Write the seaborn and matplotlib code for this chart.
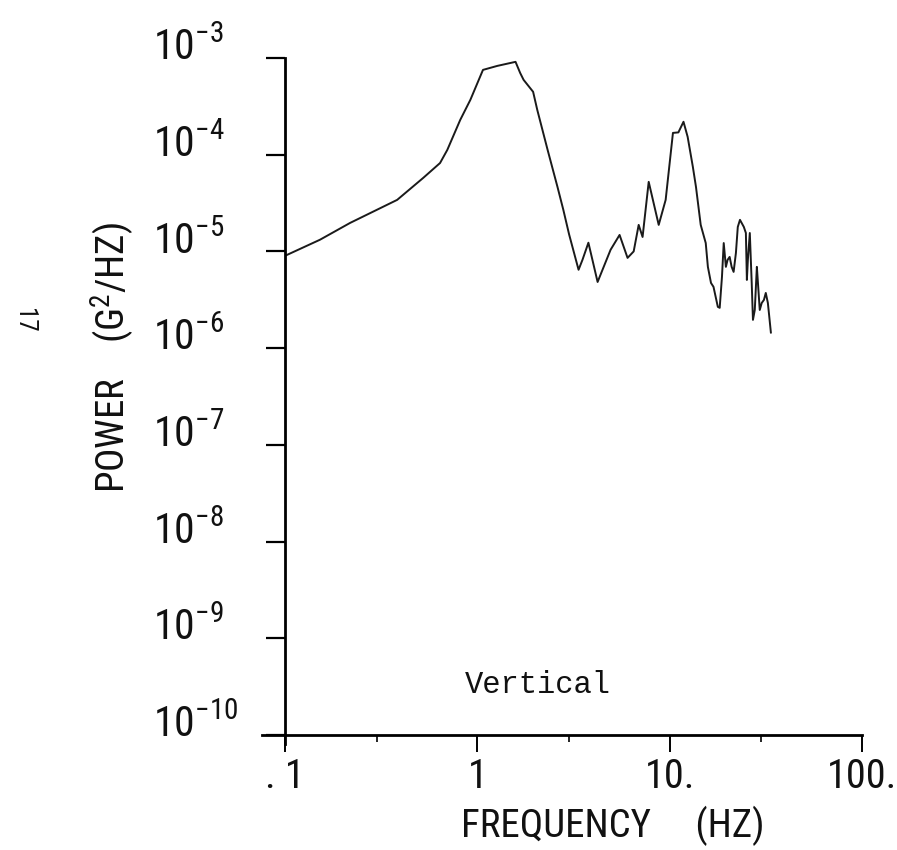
import matplotlib
matplotlib.use('Agg')

import matplotlib.pyplot as plt
from matplotlib import font_manager
from matplotlib.transforms import ScaledTranslation
import seaborn as sns
import pandas as pd
import numpy as np


# values (frequency in Hz, power in G^2/Hz)
freq = [0.1, 0.152, 0.218, 0.383, 0.523, 0.64, 0.698, 0.815, 0.92, 1.07,
        1.27, 1.58, 1.67, 1.74, 1.95, 2.05, 2.32, 2.61, 2.8, 3.0,
        3.36, 3.52, 3.78, 4.22, 4.93, 5.49, 6.04, 6.5, 6.9, 7.23,
        7.78, 8.77, 9.53, 10.4, 11.1, 11.8, 12.4, 13.2, 13.7, 14.5,
        15.4, 15.8, 16.4, 16.9, 17.8, 18.2, 18.7, 19.1, 19.6, 20.0,
        20.5, 21.0, 21.5, 22.1, 22.6, 23.2, 24.3, 24.9, 25.2, 25.5,
        26.1, 26.7, 27.1, 27.7, 28.4, 28.7, 29.4, 30.1, 30.9, 31.6,
        32.4, 32.8, 33.6]
power = [9.0e-6, 1.32e-5, 1.97e-5, 3.41e-5, 5.75e-5, 8.2e-5, 1.12e-4, 2.29e-4, 3.69e-4, 7.53e-4,
         8.28e-4, 9.12e-4, 7.0e-4, 5.94e-4, 4.47e-4, 2.9e-4, 1.12e-4, 4.65e-5, 2.69e-5, 1.5e-5,
         6.46e-6, 8.17e-6, 1.23e-5, 4.83e-6, 1.04e-5, 1.48e-5, 8.57e-6, 1.0e-5, 1.88e-5, 1.41e-5,
         5.24e-5, 1.88e-5, 3.41e-5, 1.68e-4, 1.70e-4, 2.19e-4, 1.53e-4, 7.48e-5, 4.65e-5, 1.88e-5,
         1.22e-5, 6.92e-6, 4.72e-6, 4.30e-6, 2.67e-6, 2.61e-6, 5.44e-6, 1.22e-5, 6.92e-6, 8.17e-6,
         8.77e-6, 6.92e-6, 6.14e-6, 9.64e-6, 1.79e-5, 2.12e-5, 1.79e-5, 1.55e-5, 5.07e-6, 8.17e-6,
         1.55e-5, 4.72e-6, 1.96e-6, 2.48e-6, 6.92e-6, 5.07e-6, 2.48e-6, 2.93e-6, 3.15e-6, 3.72e-6,
         2.93e-6, 2.31e-6, 1.44e-6]

x_ticks = [0.1, 1, 10, 100]
x_tick_labels = ['. 1', '1', '10.', '100.']
x_minor = [0.3, 3, 30]
y_ticks = [1e-10, 1e-9, 1e-8, 1e-7, 1e-6, 1e-5, 1e-4, 1e-3]
y_tick_labels = [r'$\mathregular{10^{-%d}}$' % n for n in [10, 9, 8, 7, 6, 5, 4, 3]]

df = pd.DataFrame({'freq': freq, 'power': power})

# the scan uses a narrow printer face; take a condensed font if one is there
installed = font_manager.fontManager.ttflist
names = {f.name for f in installed}
stretch = 'normal'
narrow = None
for cand in ['Liberation Sans Narrow', 'Roboto Condensed', 'Open Sans Condensed',
             'Noto Sans Condensed', 'DejaVu Sans Condensed']:
    if cand in names:
        narrow = cand
        break
if narrow is None:
    for f in installed:
        if str(f.stretch) in ('condensed', 'semi-condensed', 'extra-condensed', '75', '62.5', '87.5') \
                and f.name in ('DejaVu Sans', 'Noto Sans', 'Open Sans', 'Roboto', 'Liberation Sans'):
            narrow = f.name
            stretch = f.stretch
            break
if narrow is None:
    narrow = 'Liberation Sans'

sns.set_theme(style='white')
plt.rcParams['font.family'] = [narrow, 'DejaVu Sans']
plt.rcParams['font.stretch'] = stretch

fig = plt.figure(figsize=(8.97, 8.5), dpi=100)
ax = fig.add_axes([0.3177, 0.1353, 0.6433, 0.7965])

sns.lineplot(data=df, x='freq', y='power', sort=False, estimator=None,
             color='#1a1a1a', linewidth=1.4, ax=ax)

ax.set_xscale('log')
ax.set_yscale('log')
ax.set_xlim(0.1, 100)
ax.set_ylim(1e-10, 1e-3)

ax.set_xticks(x_ticks)
ax.set_xticklabels(x_tick_labels, fontsize=29)
ax.set_xticks(x_minor, minor=True)
ax.set_xticklabels([], minor=True)
ax.set_yticks(y_ticks)
ax.set_yticklabels(y_tick_labels, fontsize=30)
ax.yaxis.set_minor_locator(matplotlib.ticker.NullLocator())

ax.tick_params(axis='y', which='major', direction='out', length=14, width=1.6,
               pad=81, color='black', left=True, labelcolor='#111111')
ax.tick_params(axis='x', which='major', direction='out', length=12, width=1.4,
               pad=4, color='black', bottom=True, labelcolor='#111111')
ax.tick_params(axis='x', which='minor', direction='out', length=5, width=1.2,
               color='black', bottom=True)

# labels sit left-aligned and a bit above their ticks, as on the scan
for lbl in ax.get_yticklabels():
    lbl.set_horizontalalignment('left')
    lbl.set_transform(lbl.get_transform() + ScaledTranslation(0, 10/72, fig.dpi_scale_trans))

for side in ['top', 'right']:
    ax.spines[side].set_visible(False)
for side in ['left', 'bottom']:
    ax.spines[side].set_color('black')
    ax.spines[side].set_linewidth(2)
ax.spines['bottom'].set_bounds(0.076, 100)
ax.spines['left'].set_bounds(0.8e-10, 1e-3)

ax.set_xlabel('FREQUENCY     (HZ)', fontsize=28, color='#111111')
ax.xaxis.set_label_coords(0.568, -0.104)
ax.set_ylabel(r'POWER    (G$\mathregular{^2}$/HZ)', fontsize=28, color='#111111')
ax.yaxis.set_label_coords(-0.256, 0.558)

ax.text(0.312, 0.074, 'Vertical', transform=ax.transAxes, fontsize=22,
        family='Liberation Mono', ha='left', va='center', color='#111111')
fig.text(24/897, 1-320/850, '17', rotation=-90, fontsize=18,
         ha='center', va='center', color='#111111')

plt.savefig('out.png', dpi=100, facecolor='white')
plt.close()
